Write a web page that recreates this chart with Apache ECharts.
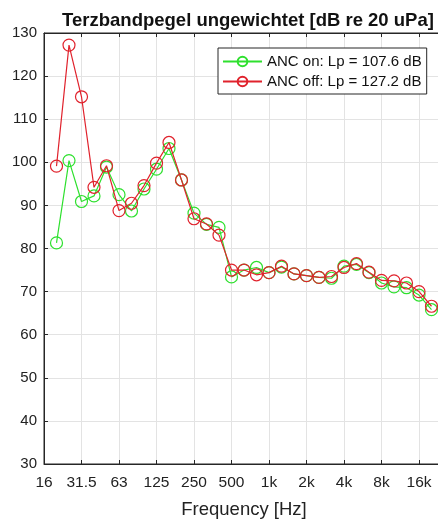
<!DOCTYPE html>
<html>
<head>
<meta charset="utf-8">
<script src="https://cdn.jsdelivr.net/npm/echarts@6/dist/echarts.min.js"></script>
<style>
html,body{margin:0;padding:0;background:#fff;}
#chart{width:438px;height:522px;}
</style>
</head>
<body>
<div id="chart"></div>
<script>
const bands = ['16','20','25','31.5','40','50','63','80','100','125','160','200','250','315','400','500','630','800','1k','1.25k','1.6k','2k','2.5k','3.15k','4k','5k','6.3k','8k','10k','12.5k','16k','20k'];
const tickLabels = ['16','31.5','63','125','250','500','1k','2k','4k','8k','16k'];
const dataBands = ['20','25','31.5','40','50','63','80','100','125','160','200','250','315','400','500','630','800','1k','1.25k','1.6k','2k','2.5k','3.15k','4k','5k','6.3k','8k','10k','12.5k','16k','20k'];
const ancOn = [81.3,100.4,90.9,92.2,98.9,92.5,88.7,93.8,98.4,103.2,95.9,88.2,85.6,84.9,73.4,75.0,75.6,74.4,75.7,74.1,73.7,73.3,73.1,75.9,76.3,74.4,72.0,71.1,70.9,69.2,65.8];
const ancOff = [99.1,127.2,115.2,94.2,99.2,88.8,90.5,94.6,99.8,104.6,95.9,86.9,85.7,83.1,75.0,75.0,73.9,74.4,75.9,74.1,73.7,73.3,73.5,75.6,76.5,74.5,72.6,72.5,72.0,70.0,66.6];
const seriesNames = ['ANC on: Lp = 107.6 dB','ANC off: Lp = 127.2 dB'];

const toPts = vals => vals.map((v,i)=>[bands.indexOf(dataBands[i]), v]);
const font = '"Liberation Sans", Arial, sans-serif';
const green = '#2ee02e', red = '#e0222c';
const labelFmt = v=>{const i=Math.round(v); return (Math.abs(v-i)<1e-6 && i%3===0 && tickLabels.includes(bands[i]))?bands[i]:'';};

const chart = echarts.init(document.getElementById('chart'), null, {renderer:'canvas'});
chart.setOption({
  animation:false,
  backgroundColor:'#fff',
  title:{
    text:'Terzbandpegel ungewichtet [dB re 20 uPa]',
    left:243, textAlign:'center', top:6,
    textStyle:{fontFamily:font, fontSize:18.5, fontWeight:'bold', color:'#111'}
  },
  grid:{left:44, top:33, right:-6, bottom:58, containLabel:false, outerBoundsMode:'none',
        show:true, borderColor:'#262626', borderWidth:1, backgroundColor:'transparent'},
  legend:{
    orient:'vertical', left:218, top:48,
    data:seriesNames,
    backgroundColor:'#fff', borderColor:'#262626', borderWidth:1,
    padding:[6,5,5,4], itemGap:5,
    itemWidth:39, itemHeight:12,
    textStyle:{fontFamily:font, fontSize:15, color:'#111'}
  },
  xAxis:[{
    type:'value', min:0, max:32, interval:3, position:'bottom',
    name:'Frequency [Hz]', nameLocation:'middle', nameGap:36,
    nameTextStyle:{fontFamily:font, fontSize:18.5, color:'#222'},
    axisLine:{show:true, lineStyle:{color:'#262626'}},
    axisTick:{show:true, inside:true, length:4, lineStyle:{color:'#262626'}},
    axisLabel:{fontFamily:font, fontSize:15.5, color:'#222', margin:11, showMaxLabel:false, formatter:labelFmt},
    splitLine:{show:true, lineStyle:{color:'#e3e3e3', width:1}}
  },{
    type:'value', min:0, max:32, interval:3, position:'top',
    axisLine:{show:true, lineStyle:{color:'#262626'}},
    axisTick:{show:true, inside:true, length:4, lineStyle:{color:'#262626'}},
    axisLabel:{show:false}, splitLine:{show:false}
  }],
  yAxis:{
    type:'value', min:30, max:130, interval:10,
    axisLine:{show:true, lineStyle:{color:'#262626'}},
    axisTick:{show:true, inside:true, length:4, lineStyle:{color:'#262626'}},
    axisLabel:{fontFamily:font, fontSize:15, color:'#222', margin:7},
    splitLine:{show:true, lineStyle:{color:'#e3e3e3', width:1}}
  },
  series:[
    {name:seriesNames[0], type:'line', xAxisIndex:0, data:toPts(ancOn), symbol:'circle', symbolSize:12,
     lineStyle:{color:green, width:1.2}, itemStyle:{color:'rgba(0,0,0,0)', borderColor:green, borderWidth:1.2}, z:2},
    {name:seriesNames[1], type:'line', xAxisIndex:0, data:toPts(ancOff), symbol:'circle', symbolSize:12,
     lineStyle:{color:red, width:1.2}, itemStyle:{color:'rgba(0,0,0,0)', borderColor:red, borderWidth:1.2}, z:3}
  ]
});
</script>
</body>
</html>
